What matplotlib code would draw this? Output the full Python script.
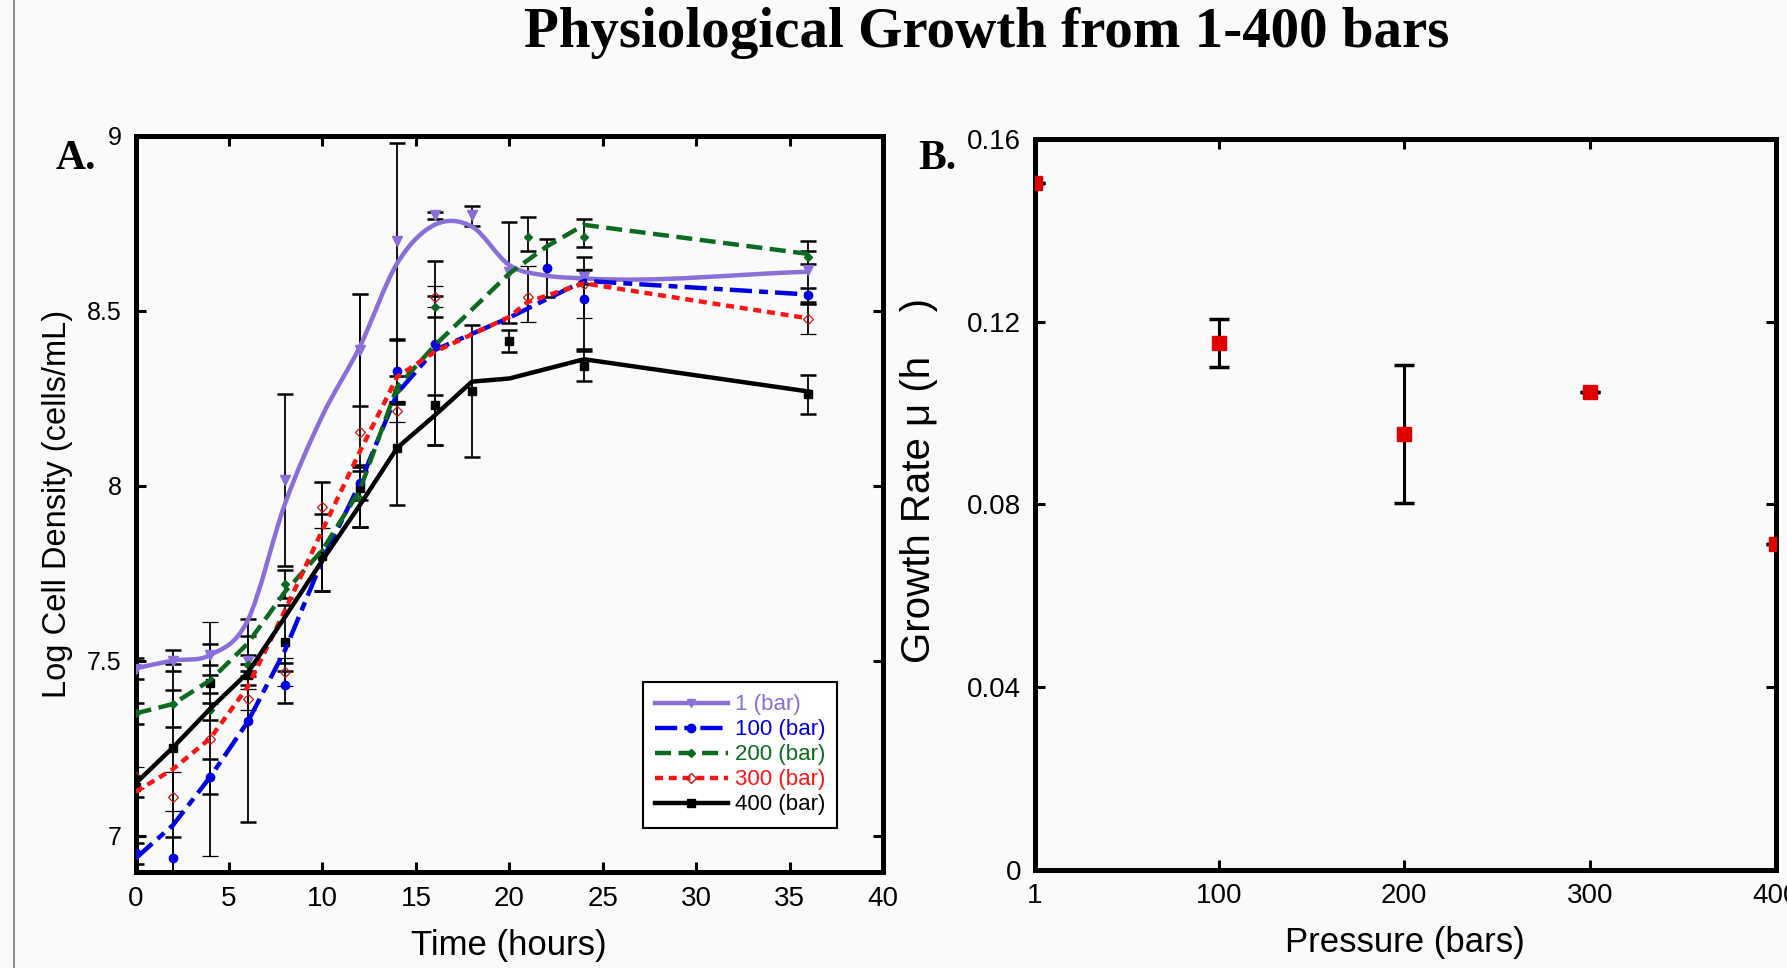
"""
Physiological growth from 1-400 bars
A. growth curves (log cell density vs time), B. growth rate vs pressure
"""

import matplotlib
matplotlib.use('Agg')
import matplotlib.pyplot as plt
import numpy as np
from matplotlib.lines import Line2D
from matplotlib.path import Path
from matplotlib.patches import PathPatch

# ---------------- data, panel A ----------------
# 1 bar: smoothed curve + measured points
curve_1_t = [0, 2, 4, 6, 8, 10, 12, 14, 16, 18, 20, 22, 24, 36]
curve_1_v = [7.478, 7.50, 7.516, 7.615, 7.949, 8.20, 8.397, 8.635, 8.745, 8.74, 8.63, 8.60, 8.592, 8.611]
pts_1_t = [0, 2, 4, 6, 8, 12, 14, 16, 18, 20, 24, 36]
pts_1_v = [7.476, 7.50, 7.516, 7.50, 8.016, 8.387, 8.70, 8.773, 8.773, 8.61, 8.597, 8.616]
err_1_lo = [0.03, 0.03, 0.03, 0.03, 0.245, 0.16, 0.28, 0.01, 0.03, 0.146, 0.02, 0.096]
err_1_hi = [0.03, 0.03, 0.03, 0.07, 0.245, 0.16, 0.28, 0.01, 0.026, 0.144, 0.02, 0.054]

# 100 bar
line_100_t = [0, 2, 4, 6, 8, 10, 12, 14, 16, 20, 24, 36]
line_100_v = [6.935, 7.03, 7.168, 7.325, 7.53, 7.787, 8.006, 8.264, 8.387, 8.48, 8.585, 8.546]
pts_100_t = [0, 2, 4, 6, 8, 12, 14, 16, 22, 24, 36]
pts_100_v = [6.949, 6.937, 7.168, 7.328, 7.43, 8.008, 8.328, 8.406, 8.621, 8.532, 8.544]
err_100_lo = [0.03, 0.05, 0.05, 0.29, 0.05, 0.05, 0.09, 0.289, 0.083, 0.142, 0.02]
err_100_hi = [0.03, 0.06, 0.05, 0.29, 0.04, 0.05, 0.088, 0.236, 0.083, 0.122, 0.02]

# 200 bar
line_200_t = [0, 2, 4, 6, 8, 10, 12, 14, 16, 20, 22, 24, 36]
line_200_v = [7.349, 7.376, 7.444, 7.549, 7.697, 7.816, 7.987, 8.282, 8.40, 8.606, 8.683, 8.745, 8.662]
pts_200_t = [0, 2, 4, 6, 8, 10, 12, 14, 16, 21, 24, 36]
pts_200_v = [7.35, 7.376, 7.36, 7.487, 7.72, 7.81, 7.961, 8.273, 8.511, 8.711, 8.711, 8.654]
err_200_lo = [0.03, 0.065, 0.03, 0.03, 0.04, 0.11, 0.08, 0.04, 0.03, 0.04, 0.03, 0.02]
err_200_hi = [0.03, 0.04, 0.02, 0.03, 0.04, 0.11, 0.08, 0.04, 0.03, 0.056, 0.05, 0.046]

# 300 bar
line_300_t = [0, 2, 4, 6, 8, 10, 12, 14, 16, 20, 21, 24, 36]
line_300_v = [7.125, 7.19, 7.278, 7.425, 7.644, 7.873, 8.097, 8.311, 8.382, 8.482, 8.525, 8.578, 8.478]
pts_300_t = [0, 2, 4, 6, 8, 10, 12, 14, 16, 21, 24, 36]
pts_300_v = [7.166, 7.109, 7.276, 7.39, 7.466, 7.94, 8.152, 8.213, 8.540, 8.538, 8.575, 8.475]
err_300_lo = [0.03, 0.04, 0.335, 0.03, 0.04, 0.06, 0.27, 0.03, 0.03, 0.07, 0.095, 0.042]
err_300_hi = [0.03, 0.073, 0.335, 0.03, 0.04, 0.071, 0.395, 0.03, 0.03, 0.09, 0.045, 0.045]

# 400 bar
line_400_t = [0, 2, 4, 6, 8, 10, 12, 14, 16, 18, 20, 24, 36]
line_400_v = [7.149, 7.252, 7.363, 7.465, 7.625, 7.787, 7.944, 8.108, 8.20, 8.297, 8.306, 8.361, 8.269]
pts_400_t = [0, 2, 4, 6, 8, 10, 12, 14, 16, 18, 20, 24, 36]
pts_400_v = [7.14, 7.25, 7.437, 7.46, 7.554, 7.80, 7.992, 8.108, 8.229, 8.271, 8.414, 8.342, 8.261]
err_400_lo = [0.03, 0.35, 0.03, 0.03, 0.06, 0.10, 0.11, 0.163, 0.112, 0.189, 0.032, 0.042, 0.055]
err_400_hi = [0.03, 0.24, 0.023, 0.03, 0.106, 0.21, 0.06, 0.128, 0.03, 0.188, 0.03, 0.042, 0.055]

legend_labels = ['1 (bar)', '100 (bar)', '200 (bar)', '300 (bar)', '400 (bar)']

# ---------------- data, panel B ----------------
pressure = [1, 100, 200, 300, 400]
growth_rate = [0.1503, 0.1153, 0.0954, 0.1046, 0.0714]
growth_err = [0.0, 0.0053, 0.0152, 0.0, 0.0]
pressure_labels = ['1', '100', '200', '300', '400']

# colours
PURPLE = '#8a6fd8'
BLUE = '#0000e0'
GREEN = '#0b6a1f'
RED = '#ff1414'
BLACK = '#000000'
BG = '#fafafa'

NARROW = ['Liberation Sans Narrow', 'Liberation Sans', 'DejaVu Sans']
WIDE = ['Liberation Sans', 'DejaVu Sans']
SERIF = ['Liberation Serif', 'DejaVu Serif']


def smooth_path(t, v):
    """Cubic Hermite curve through the points, as bezier segments"""
    t = np.asarray(t, float)
    v = np.asarray(v, float)
    m = np.gradient(v, t)
    verts = [(t[0], v[0])]
    codes = [Path.MOVETO]
    for i in range(len(t) - 1):
        h = t[i + 1] - t[i]
        verts += [(t[i] + h / 3, v[i] + m[i] * h / 3),
                  (t[i + 1] - h / 3, v[i + 1] - m[i + 1] * h / 3),
                  (t[i + 1], v[i + 1])]
        codes += [Path.CURVE4] * 3
    return Path(verts, codes)


def style_axes(ax):
    for spine in ax.spines.values():
        spine.set_linewidth(3.6)
        spine.set_color('black')
    ax.tick_params(axis='both', which='major', direction='in', length=7, width=2.2,
                   top=True, right=True, pad=10, labelsize=18)
    ax.set_facecolor(BG)


fig = plt.figure(figsize=(17.87, 9.68), dpi=100)
fig.patch.set_facecolor(BG)

# ---------------- panel A ----------------
axA = fig.add_axes([0.0759, 0.0992, 0.4182, 0.7607])
style_axes(axA)
axA.set_xlim(0, 40)
axA.set_ylim(6.896, 9)
axA.set_xticks(np.arange(0, 41, 5))
axA.set_yticks([7, 7.5, 8, 8.5, 9])
axA.set_yticklabels(['7', '7.5', '8', '8.5', '9'], family=WIDE, fontsize=18)
for lab in axA.get_xticklabels():
    lab.set_family(NARROW)
    lab.set_fontsize(20)

err_kw = dict(linestyle='none', ecolor='black', elinewidth=1.3, capsize=6, capthick=1.8, zorder=3)

# error bars + markers
axA.errorbar(pts_1_t, pts_1_v, yerr=[err_1_lo, err_1_hi], fmt='v', color=PURPLE, ms=7, **err_kw)
axA.errorbar(pts_100_t, pts_100_v, yerr=[err_100_lo, err_100_hi], fmt='o', color=BLUE, ms=6, **err_kw)
axA.errorbar(pts_200_t, pts_200_v, yerr=[err_200_lo, err_200_hi], fmt='D', color=GREEN, ms=4.5, **err_kw)
axA.errorbar(pts_300_t, pts_300_v, yerr=[err_300_lo, err_300_hi], fmt='D', mfc='none', mec='#c01818',
             mew=0.9, ms=5.5, **err_kw)
axA.errorbar(pts_400_t, pts_400_v, yerr=[err_400_lo, err_400_hi], fmt='s', color=BLACK, ms=6, **err_kw)

# lines
LW = 3.2
dash_100 = (5, 1.6, 2, 1.6)
dash_200 = (3.6, 1.7)
dash_300 = (1.8, 1.3)
axA.add_patch(PathPatch(smooth_path(curve_1_t, curve_1_v), fill=False, edgecolor=PURPLE,
                        lw=LW, zorder=4, capstyle='round'))
axA.plot(line_100_t, line_100_v, color=BLUE, lw=LW, dashes=dash_100, zorder=4)
axA.plot(line_200_t, line_200_v, color=GREEN, lw=LW, dashes=dash_200, zorder=4)
axA.plot(line_300_t, line_300_v, color=RED, lw=LW, dashes=dash_300, zorder=4)
axA.plot(line_400_t, line_400_v, color=BLACK, lw=LW, zorder=5)

axA.set_xlabel('Time (hours)', family=NARROW, fontsize=25, labelpad=12)
axA.set_ylabel('Log Cell Density (cells/mL)', family=NARROW, fontsize=23.5, labelpad=10)

handles = [
    Line2D([], [], color=PURPLE, lw=LW, marker='v', ms=6),
    Line2D([], [], color=BLUE, lw=LW, dashes=dash_100, marker='o', ms=6),
    Line2D([], [], color=GREEN, lw=LW, dashes=dash_200, marker='D', ms=4),
    Line2D([], [], color=RED, lw=LW, dashes=dash_300, marker='D', mfc='none', mec='#c01818', ms=5),
    Line2D([], [], color=BLACK, lw=LW, marker='s', ms=6),
]
leg = axA.legend(handles, legend_labels, loc='upper right', bbox_to_anchor=(0.954, 0.273),
                 numpoints=1, handlelength=3.3, handletextpad=0.3, labelspacing=0.18,
                 borderpad=0.55, fancybox=False, framealpha=1, edgecolor='black',
                 prop={'family': WIDE, 'size': 16})
leg.get_frame().set_linewidth(1.5)
for txt, c in zip(leg.get_texts(), [PURPLE, BLUE, GREEN, RED, BLACK]):
    txt.set_color(c)

# ---------------- panel B ----------------
axB = fig.add_axes([0.5791, 0.1017, 0.4145, 0.7547])
style_axes(axB)
axB.set_xlim(1, 400)
axB.set_ylim(0, 0.16)
axB.set_xticks(pressure)
axB.set_xticklabels(pressure_labels)
axB.set_yticks([0, 0.04, 0.08, 0.12, 0.16])
axB.set_yticklabels(['0', '0.04', '0.08', '0.12', '0.16'])
for lab in axB.get_xticklabels() + axB.get_yticklabels():
    lab.set_family(NARROW)
    lab.set_fontsize(20)

axB.errorbar(pressure, growth_rate, yerr=growth_err, fmt='s', color='#e00000', ms=10,
             linestyle='none', ecolor='black', elinewidth=2.2, capsize=7, capthick=2.5, zorder=3)

axB.set_xlabel('Pressure (bars)', family=NARROW, fontsize=25, labelpad=12)
axB.set_ylabel('Growth Rate \u03bc (h    )', family=WIDE, fontsize=29)
axB.yaxis.set_label_coords(-0.131, 0.532)

# ---------------- titles & panel letters ----------------
fig.text(0.552, 0.966, 'Physiological Growth from 1-400 bars', family=SERIF, weight='bold',
         fontsize=41, ha='center', va='center')
fig.text(0.031, 0.836, 'A.', family=SERIF, weight='bold', fontsize=30, ha='left', va='center')
fig.text(0.514, 0.836, 'B.', family=SERIF, weight='bold', fontsize=30, ha='left', va='center')

# slide border at the left
fig.add_artist(Line2D([0.008, 0.008], [0, 1], transform=fig.transFigure, color='#8a8a8a', lw=1.4))

fig.savefig('out.png', dpi=100, facecolor=BG)
